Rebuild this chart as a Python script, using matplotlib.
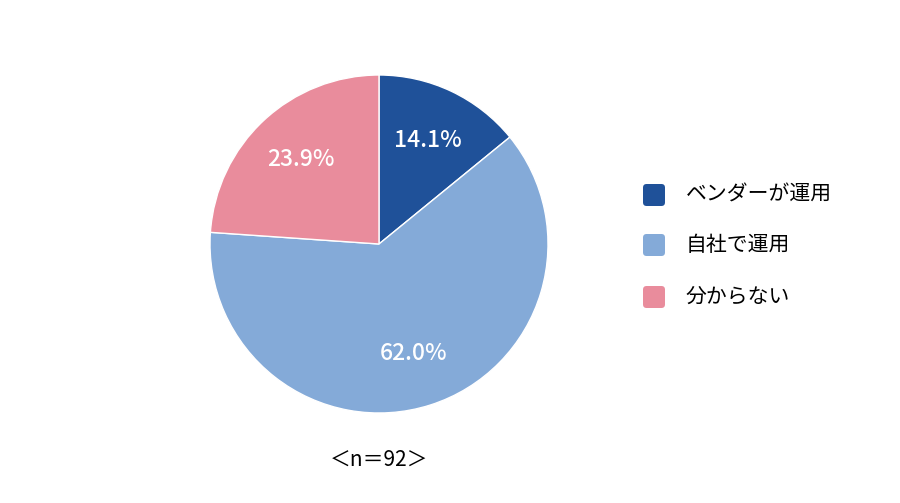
import matplotlib
matplotlib.use("Agg")
import matplotlib.pyplot as plt
from matplotlib.patches import FancyBboxPatch

plt.rcParams['font.family'] = ['Noto Sans CJK JP', 'DejaVu Sans']

# data
labels = ["ベンダーが運用", "自社で運用", "分からない"]
shares = [14.1, 62.0, 23.9]
colors = ["#1F5199", "#84AAD8", "#E98C9C"]
note = "＜n＝92＞"

W, H = 900, 503
fig = plt.figure(figsize=(W / 100, H / 100), dpi=100)

# pie centre (379, 244) px, radius 169 px
cx, cy, r = 379, 244, 169
ax = fig.add_axes([(cx - r) / W, (H - cy - r) / H, 2 * r / W, 2 * r / H])
wedges, texts, autotexts = ax.pie(
    shares, colors=colors, startangle=90, counterclock=False,
    autopct=lambda p: f"{p:.1f}%", pctdistance=0.68,
    wedgeprops=dict(edgecolor="white", linewidth=1.0),
    textprops=dict(color="white", fontsize=16.5, fontweight="medium"))
ax.set_aspect("equal")
ax.set_xlim(-1, 1)
ax.set_ylim(-1, 1)

fig.text(cx / W, 1 - 460 / H, note, ha="center", va="center", fontsize=15)

# legend drawn by hand: rounded squares + labels
box = 22
rows_y = [195, 245, 297]
for lab, col, yy in zip(labels, colors, rows_y):
    patch = FancyBboxPatch((643 / W, 1 - (yy + box / 2) / H), box / W, box / H,
                           boxstyle="round,pad=0,rounding_size=0.004",
                           transform=fig.transFigure, facecolor=col,
                           edgecolor="none", mutation_aspect=W / H)
    fig.patches.append(patch)
    fig.text(686 / W, 1 - yy / H, lab, ha="left", va="center", fontsize=15)

fig.savefig("out.png", dpi=100, facecolor="white")
